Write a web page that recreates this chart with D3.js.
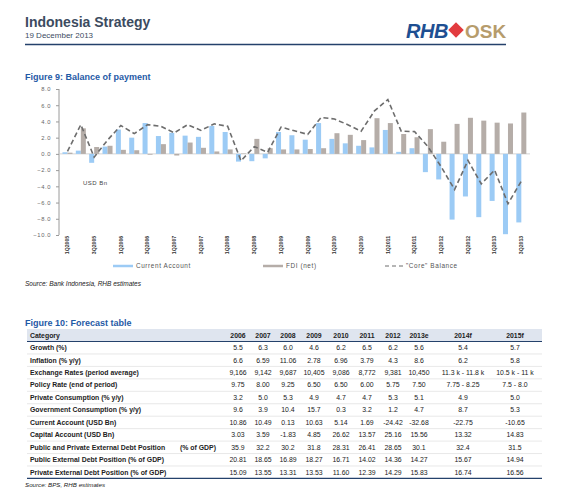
<!DOCTYPE html>
<html><head><meta charset="utf-8">
<script src="https://cdn.jsdelivr.net/npm/d3@7"></script>
<style>
body{margin:0;background:#fff;}
svg{display:block;font-family:"Liberation Sans",Arial,sans-serif;}
</style></head>
<body><svg id="c" width="586" height="499"></svg>
<script>
const quarters = ["1Q2005","2Q2005","3Q2005","4Q2005","1Q2006","2Q2006","3Q2006","4Q2006","1Q2007","2Q2007","3Q2007","4Q2007","1Q2008","2Q2008","3Q2008","4Q2008","1Q2009","2Q2009","3Q2009","4Q2009","1Q2010","2Q2010","3Q2010","4Q2010","1Q2011","2Q2011","3Q2011","4Q2011","1Q2012","2Q2012","3Q2012","4Q2012","1Q2013","2Q2013","3Q2013"];
const currentAccount = [0.2,0.4,-1.1,0.9,3.0,2.0,3.8,2.2,2.6,2.25,2.1,3.45,2.7,-0.95,-0.9,-0.55,2.7,2.3,1.75,3.8,1.85,1.3,1.0,0.8,2.95,0.25,0.7,-2.25,-3.15,-8.1,-5.25,-7.8,-5.8,-9.9,-8.45];
const fdiNet = [0.15,3.15,0.85,1.0,0.5,0.45,-0.1,1.2,-0.2,1.4,0.75,0.3,0.55,0.05,1.85,0.7,0.55,0.55,0.6,0.7,2.55,2.35,1.7,4.4,3.8,2.45,2.05,3.05,1.5,3.7,4.45,4.1,3.85,3.75,5.1];
const coreBalance = [0.3,3.6,-0.4,1.7,3.5,2.5,3.6,3.4,2.6,3.6,2.9,3.7,3.4,-0.85,0.9,0.2,3.3,2.85,2.4,4.5,4.3,3.6,2.8,5.3,6.7,2.8,2.75,0.9,-1.6,-4.4,-0.8,-3.7,-2.0,-6.15,-3.35];
const yTicks = [8,6,4,2,0,-2,-4,-6,-8,-10];
const xTickLabels = quarters.filter((q,i)=>i%2===0);
const seriesNames = ["Current Account","FDI (net)","\"Core\" Balance"];

const tableYears = ["2006","2007","2008","2009","2010","2011","2012","2013e","2014f","2015f"];
const tableCategories = ["Growth (%)","Inflation (% y/y)","Exchange Rates (period average)","Policy Rate (end of period)","Private Consumption (% y/y)","Government Consumption (% y/y)","Current Account (USD Bn)","Capital Account (USD Bn)","Public and Private External Debt Position","Public External Debt Position (% of GDP)","Private External Debt Position (% of GDP)"];
const rowGrowth = ["5.5","6.3","6.0","4.6","6.2","6.5","6.2","5.6","5.4","5.7"];
const rowInflation = ["6.6","6.59","11.06","2.78","6.96","3.79","4.3","8.6","6.2","5.8"];
const rowExchange = ["9,166","9,142","9,687","10,405","9,086","8,772","9,381","10,450","11.3 k - 11.8 k","10.5 k - 11 k"];
const rowPolicy = ["9.75","8.00","9.25","6.50","6.50","6.00","5.75","7.50","7.75 - 8.25","7.5 - 8.0"];
const rowPrivCons = ["3.2","5.0","5.3","4.9","4.7","4.7","5.3","5.1","4.9","5.0"];
const rowGovCons = ["9.6","3.9","10.4","15.7","0.3","3.2","1.2","4.7","8.7","5.3"];
const rowCurrent = ["10.86","10.49","0.13","10.63","5.14","1.69","-24.42","-32.68","-22.75","-10.65"];
const rowCapital = ["3.03","3.59","-1.83","4.85","26.62","13.57","25.16","15.56","13.32","14.83"];
const rowPubPriv = ["35.9","32.2","30.2","31.8","28.31","26.41","28.65","30.1","32.4","31.5"];
const rowPublic = ["20.81","18.65","16.89","18.27","16.71","14.02","14.36","14.27","15.67","14.94"];
const rowPrivate = ["15.09","13.55","13.31","13.53","11.60","12.39","14.29","15.83","16.74","16.56"];
const tableRows = [rowGrowth,rowInflation,rowExchange,rowPolicy,rowPrivCons,rowGovCons,rowCurrent,rowCapital,rowPubPriv,rowPublic,rowPrivate];

const svg = d3.select("#c");
const navy = "#24416b", titleBlue = "#1f5aa6";
const blueBar = "#9ccbf5", grayBar = "#b5ada8", coreCol = "#6d6d6d";

// Header
svg.append("text").attr("x",25).attr("y",27).attr("font-size",14).attr("font-weight","bold").attr("fill","#3c4b5f").text("Indonesia Strategy");
svg.append("text").attr("x",25).attr("y",38).attr("font-size",8).attr("fill","#3c4b5f").text("19 December 2013");
svg.append("line").attr("x1",25).attr("x2",506).attr("y1",44.5).attr("y2",44.5).attr("stroke",navy).attr("stroke-width",1.5);
// Logo
svg.append("text").attr("x",406).attr("y",38).attr("font-size",20).attr("font-weight","bold").attr("font-style","italic").attr("fill","#1e4f92").attr("letter-spacing",-0.5).text("RHB");
svg.append("rect").attr("x",-5.5).attr("y",-5.5).attr("width",11).attr("height",11).attr("fill","#e23b3f").attr("transform","translate(456,30) rotate(45)");
svg.append("text").attr("x",465).attr("y",38).attr("font-size",19).attr("font-weight","bold").attr("fill","#b69c6c").text("OSK");

// Figure 9
svg.append("text").attr("x",25).attr("y",80).attr("font-size",9).attr("font-weight","bold").attr("fill",titleBlue).text("Figure 9:  Balance of payment");

const y = d3.scaleLinear().domain([-10,8]).range([235,89]);
const x = d3.scaleBand().domain(quarters).range([60.8,528]).paddingInner(0.25).paddingOuter(0.125);
const x1 = d3.scaleBand().domain(["ca","fdi"]).range([0,x.bandwidth()]);

// y axis
const yAxis = d3.axisLeft(y).tickValues(yTicks).tickSize(3).tickFormat(d3.format(".1f"));
const gy = svg.append("g").attr("transform","translate(59,0)").call(yAxis);
gy.select(".domain").attr("stroke","#9a9a9a").attr("d","M0,89V235");
gy.selectAll(".tick line").attr("stroke","#9a9a9a");
gy.selectAll(".tick text").attr("font-size",5.8).attr("fill","#666").attr("letter-spacing",0.6).attr("x",-8).attr("font-family","Liberation Sans, Arial, sans-serif");

// zero line
svg.append("line").attr("x1",59).attr("x2",530).attr("y1",y(0)).attr("y2",y(0)).attr("stroke","#c8c8c8").attr("stroke-width",0.8);

// bars
const g = svg.append("g");
g.selectAll("rect.ca").data(quarters).join("rect").attr("class","ca")
  .attr("x",d=>x(d)+x1("ca")).attr("width",x1.bandwidth())
  .attr("y",(d,i)=>y(Math.max(0,currentAccount[i]))).attr("height",(d,i)=>Math.abs(y(currentAccount[i])-y(0)))
  .attr("fill",blueBar);
g.selectAll("rect.fdi").data(quarters).join("rect").attr("class","fdi")
  .attr("x",d=>x(d)+x1("fdi")).attr("width",x1.bandwidth())
  .attr("y",(d,i)=>y(Math.max(0,fdiNet[i]))).attr("height",(d,i)=>Math.abs(y(fdiNet[i])-y(0)))
  .attr("fill",grayBar);
// core line
const line = d3.line().x((d,i)=>x(quarters[i])+x.bandwidth()/2).y(d=>y(d));
svg.append("path").datum(coreBalance).attr("d",line).attr("fill","none").attr("stroke",coreCol).attr("stroke-width",1.6).attr("stroke-dasharray","5,3");

// USD Bn
svg.append("text").attr("x",83).attr("y",184.5).attr("font-size",6).attr("fill","#444").attr("letter-spacing",0.5).text("USD Bn");

// x tick labels
svg.append("g").selectAll("text").data(xTickLabels).join("text")
  .attr("transform",d=>`translate(${x(d)+x.bandwidth()/2},245) rotate(-90)`)
  .attr("text-anchor","middle").attr("dy","0.35em").attr("font-size",5.2).attr("font-weight","bold").attr("fill","#333")
  .text(d=>d);

// legend
const leg = svg.append("g");
const legItems = [
  {name:seriesNames[0], x:113, col:blueBar, dash:null},
  {name:seriesNames[1], x:263, col:grayBar, dash:null},
  {name:seriesNames[2], x:385, col:coreCol, dash:"4,3"}];
legItems.forEach(it=>{
  leg.append("line").attr("x1",it.x).attr("x2",it.x+20).attr("y1",266).attr("y2",266)
    .attr("stroke",it.col).attr("stroke-width",it.dash?1:2.5).attr("stroke-dasharray",it.dash);
  leg.append("text").attr("x",it.x+(it.dash?21:23)).attr("y",268.2).attr("font-size",6.4).attr("fill","#555").attr("letter-spacing",0.6).text(it.name);
});

svg.append("text").attr("x",25).attr("y",285.5).attr("font-size",6.5).attr("font-style","italic").attr("fill","#222").text("Source: Bank Indonesia, RHB estimates");

// Figure 10 table
svg.append("text").attr("x",25).attr("y",326).attr("font-size",9).attr("font-weight","bold").attr("fill",titleBlue).text("Figure 10:  Forecast table");
const colX = [238,263,288,314,341,367,393,419,463,515];
const tLeft = 27, tRight = 542, headTop = 329, headBot = 341.5, rowH = 12.45;
svg.append("rect").attr("x",tLeft).attr("y",headTop).attr("width",tRight-tLeft).attr("height",headBot-headTop).attr("fill","#dfe5ef");
svg.append("line").attr("x1",tLeft).attr("x2",tRight).attr("y1",headBot).attr("y2",headBot).attr("stroke",navy).attr("stroke-width",1.2);
svg.append("text").attr("x",30).attr("y",headTop+8.6).attr("font-size",6.9).attr("font-weight","bold").attr("fill","#222").text("Category");
svg.append("g").selectAll("text").data(tableYears).join("text")
  .attr("x",(d,i)=>colX[i]).attr("y",headTop+8.6).attr("text-anchor","middle").attr("font-size",6.9).attr("font-weight","bold").attr("fill","#222").text(d=>d);
tableCategories.forEach((cat,r)=>{
  const top = headBot + r*rowH;
  const cy = top + rowH/2;
  if(r<tableCategories.length-1){
    svg.append("line").attr("x1",tLeft).attr("x2",tRight).attr("y1",top+rowH).attr("y2",top+rowH).attr("stroke","#d9d9d9").attr("stroke-width",0.6);
  }
  svg.append("text").attr("x",30).attr("y",cy+2.4).attr("font-size",6.9).attr("font-weight","bold").attr("fill","#222").text(cat);
  if(r===8) svg.append("text").attr("x",180).attr("y",cy+2.4).attr("font-size",6.9).attr("font-weight","bold").attr("fill","#222").text("(% of GDP)");
  svg.append("g").selectAll("text").data(tableRows[r]).join("text")
    .attr("x",(d,i)=>colX[i]).attr("y",cy+2.4).attr("text-anchor","middle").attr("font-size",6.9).attr("fill","#222").text(d=>d);
});
const tBot = headBot + tableCategories.length*rowH;
svg.append("line").attr("x1",tLeft).attr("x2",tRight).attr("y1",tBot).attr("y2",tBot).attr("stroke",navy).attr("stroke-width",1.2);
svg.append("text").attr("x",25).attr("y",tBot+8.5).attr("font-size",6.2).attr("font-style","italic").attr("fill","#222").text("Source: BPS, RHB estimates");
</script></body></html>
